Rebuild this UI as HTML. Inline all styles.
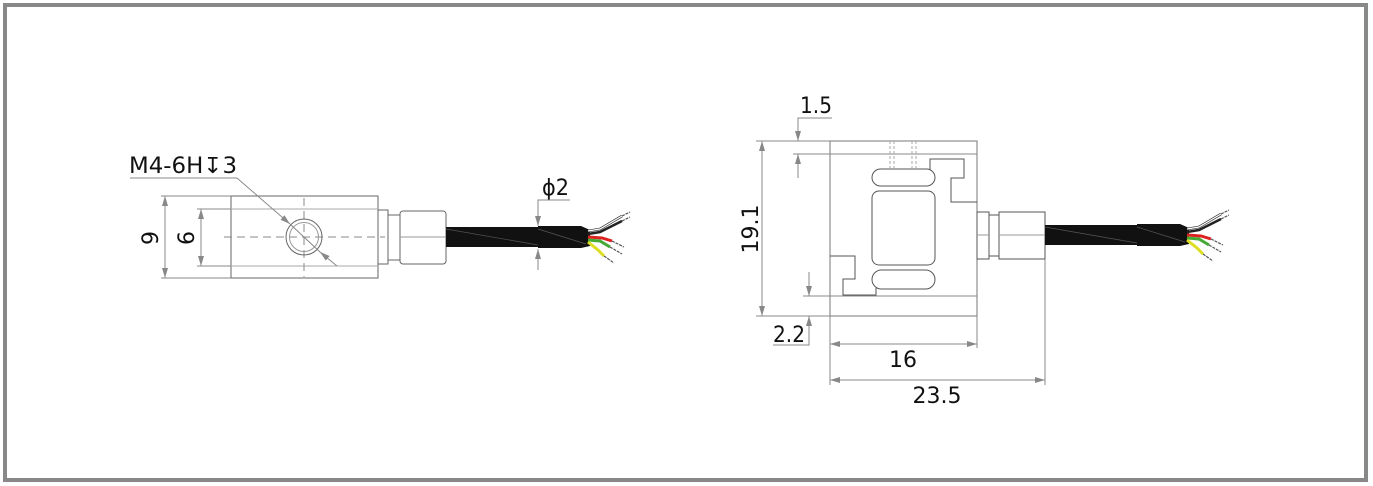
<!DOCTYPE html>
<html><head><meta charset="utf-8"><style>
html,body{margin:0;padding:0;background:#fff}
svg{display:block}
text{font-family:"DejaVu Sans","Liberation Sans",sans-serif;font-size:22px;fill:#111}
</style></head><body>
<svg width="1373" height="486" viewBox="0 0 1373 486" xmlns="http://www.w3.org/2000/svg">
<defs>
<marker id="a" viewBox="0 0 10 6" refX="10" refY="3" markerWidth="10" markerHeight="6" orient="auto-start-reverse" markerUnits="userSpaceOnUse"><path d="M0,0 L10,3 L0,6z" fill="#888"/></marker>
<g id="wires">
 <path d="M0,0 L43,0 L52,4 L52,20 L43,22 L0,22z" fill="#111"/>
 <line x1="0" y1="3" x2="48" y2="18" stroke="#555" stroke-width="0.7"/>
 <path d="M50,5 L62,3 L84,-10" stroke="#333" stroke-width="2.5" fill="none"/>
 <path d="M50,5 L62,3 L84,-10" stroke="#fff" stroke-width="1.2" fill="none"/>
 <path d="M50,8 L62,6 L84,-5" stroke="#222" stroke-width="2.5" fill="none"/>
 <path d="M50,11 L64,12 L74,15" stroke="#d22" stroke-width="3" fill="none"/>
 <line x1="74" y1="15" x2="86" y2="21" stroke="#555" stroke-width="1.2" stroke-dasharray="3,1"/>
 <path d="M50,14 L62,15 L72,21" stroke="#4a3" stroke-width="3" fill="none"/>
 <line x1="72" y1="21" x2="84" y2="28" stroke="#555" stroke-width="1.2" stroke-dasharray="3,1"/>
 <path d="M50,16 L60,24 L66,30" stroke="#dd2" stroke-width="3" fill="none"/>
 <line x1="66" y1="30" x2="76" y2="37" stroke="#555" stroke-width="1.2" stroke-dasharray="3,1"/>
 <line x1="84" y1="-10" x2="92" y2="-14" stroke="#555" stroke-width="1.2" stroke-dasharray="3,1"/>
 <line x1="84" y1="-5" x2="92" y2="-9" stroke="#555" stroke-width="1.2" stroke-dasharray="3,1"/>
</g>
</defs>
<rect x="5" y="5" width="1361" height="475" fill="none" stroke="#888" stroke-width="4"/>

<!-- LEFT VIEW -->
<g stroke="#666" stroke-width="1" fill="none">
 <rect x="231" y="196" width="147" height="82"/>
 <line x1="231" y1="209" x2="378" y2="209" stroke="#aaa"/>
 <line x1="231" y1="266" x2="378" y2="266" stroke="#aaa"/>
 <line x1="224" y1="237" x2="385" y2="237" stroke="#888" stroke-dasharray="8,5"/>
 <line x1="304" y1="198" x2="304" y2="277" stroke="#888" stroke-dasharray="8,5"/>
 <circle cx="304" cy="237" r="18"/>
 <circle cx="304" cy="237" r="14.5" stroke="#999"/>
 <rect x="378" y="210" width="10" height="54"/>
 <rect x="388" y="215" width="12" height="45"/>
 <rect x="400" y="211" width="46" height="53" rx="3"/>
 <line x1="400" y1="237" x2="446" y2="237" stroke="#999"/>
</g>
<rect x="446" y="227" width="92" height="20" fill="#111"/>
<line x1="446" y1="229" x2="538" y2="245" stroke="#555" stroke-width="0.7"/>
<use href="#wires" x="538" y="226"/>
<!-- left dims -->
<g stroke="#888" stroke-width="1" fill="none">
 <line x1="161" y1="196" x2="231" y2="196"/>
 <line x1="161" y1="278" x2="231" y2="278"/>
 <line x1="165" y1="196" x2="165" y2="278" marker-start="url(#a)" marker-end="url(#a)"/>
 <line x1="197" y1="209" x2="231" y2="209"/>
 <line x1="197" y1="266" x2="231" y2="266"/>
 <line x1="201" y1="209" x2="201" y2="266" marker-start="url(#a)" marker-end="url(#a)"/>
 <polyline points="130,178 237,178 290,224" marker-end="url(#a)"/>
 <line x1="337" y1="266" x2="320" y2="252" marker-end="url(#a)"/>
 <line x1="290" y1="224" x2="320" y2="252"/>
 <polyline points="570,200 538,200 538,226" marker-end="url(#a)"/>
 <line x1="538" y1="270" x2="538" y2="249" marker-end="url(#a)"/>
</g>
<text x="129" y="173" textLength="108" lengthAdjust="spacingAndGlyphs">M4-6H↧3</text>
<text x="542" y="195" textLength="27" lengthAdjust="spacingAndGlyphs">ϕ2</text>
<text transform="translate(158,238) rotate(-90)" text-anchor="middle">9</text>
<text transform="translate(194,238) rotate(-90)" text-anchor="middle">6</text>

<!-- RIGHT VIEW -->
<g stroke="#555" stroke-width="1" fill="none">
 <rect x="830" y="141" width="147" height="175" stroke="#777"/>
 <line x1="830" y1="154" x2="977" y2="154" stroke="#888"/>
 <line x1="830" y1="296" x2="977" y2="296" stroke="#888"/>
 <rect x="872" y="169" width="63" height="17" rx="8.5"/>
 <rect x="872" y="191" width="63" height="74" rx="7"/>
 <rect x="872" y="270" width="63" height="19" rx="9.5"/>
 <polyline points="930,170 930,159 964,159 964,178 951,178 951,202 977,202"/>
 <polyline points="830,256 855,256 855,279 843,279 843,295 876,295 876,288"/>
 <g stroke="#aaa" stroke-dasharray="3,2"><line x1="890" y1="141" x2="890" y2="168"/><line x1="894" y1="141" x2="894" y2="168"/><line x1="912" y1="141" x2="912" y2="168"/><line x1="916" y1="141" x2="916" y2="168"/></g>
 <rect x="977" y="212" width="12" height="47"/>
 <rect x="989" y="215" width="10" height="41"/>
 <rect x="999" y="212" width="46" height="47"/>
 <line x1="999" y1="235" x2="1045" y2="235" stroke="#999"/>
 <line x1="977" y1="235" x2="989" y2="235" stroke="#999"/>
</g>
<rect x="1045" y="225" width="92" height="20" fill="#111"/>
<line x1="1045" y1="227" x2="1137" y2="243" stroke="#555" stroke-width="0.7"/>
<use href="#wires" x="1137" y="224"/>
<!-- right dims -->
<g stroke="#888" stroke-width="1" fill="none">
 <line x1="756" y1="141" x2="830" y2="141"/>
 <line x1="756" y1="316" x2="830" y2="316"/>
 <line x1="762" y1="141" x2="762" y2="316" marker-start="url(#a)" marker-end="url(#a)"/>
 <line x1="793" y1="154" x2="830" y2="154"/>
 <polyline points="832,118 798,118 798,141" marker-end="url(#a)"/>
 <line x1="798" y1="178" x2="798" y2="154" marker-end="url(#a)"/>
 <line x1="803" y1="296" x2="830" y2="296"/>
 <line x1="809" y1="272" x2="809" y2="296" marker-end="url(#a)"/>
 <polyline points="773,345 809,345 809,316" marker-end="url(#a)"/>
 <line x1="830" y1="316" x2="830" y2="385"/>
 <line x1="977" y1="316" x2="977" y2="348"/>
 <line x1="1045" y1="259" x2="1045" y2="385"/>
 <line x1="830" y1="344" x2="977" y2="344" marker-start="url(#a)" marker-end="url(#a)"/>
 <line x1="830" y1="380" x2="1045" y2="380" marker-start="url(#a)" marker-end="url(#a)"/>
</g>
<text x="800" y="113" textLength="32" lengthAdjust="spacingAndGlyphs">1.5</text>
<text x="773" y="342" textLength="32" lengthAdjust="spacingAndGlyphs">2.2</text>
<text x="903" y="367" text-anchor="middle">16</text>
<text x="937" y="403" text-anchor="middle">23.5</text>
<text transform="translate(758,229) rotate(-90)" text-anchor="middle">19.1</text>
</svg>
</body></html>
